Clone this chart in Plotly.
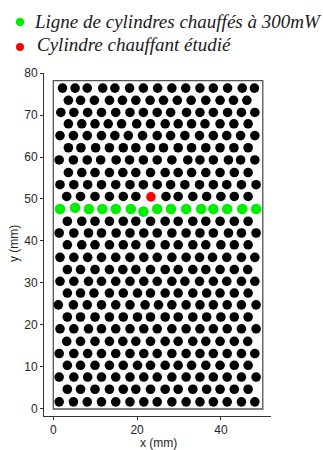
import plotly.graph_objects as go

# ---- data (mm) ----
row_y = [1.7, 4.7, 7.6, 10.4, 13.2, 16.1, 19.1, 21.9, 24.8, 27.6, 30.4, 33.2, 36.1,
         39.1, 41.9, 44.7, 50.6, 53.4, 56.3, 59.3, 62.2, 65.1, 67.9, 70.6, 73.5, 76.4]
row_x = [
    [1.4, 4.8, 8.1, 11.5, 14.9, 18.3, 21.6, 24.8, 28.3, 31.7, 35.0, 38.2, 41.5, 44.9, 48.1],
    [3.35, 6.5, 9.95, 13.4, 16.7, 19.7, 23.2, 26.7, 29.8, 33.3, 36.6, 39.8, 43.2, 46.5],
    [1.4, 4.9, 8.2, 11.5, 14.9, 18.3, 21.6, 24.8, 28.3, 31.7, 35.0, 38.2, 41.5, 44.9, 48.4],
    [3.35, 6.5, 9.95, 13.4, 16.7, 20.1, 23.2, 26.7, 29.8, 33.0, 36.4, 39.8, 43.2, 46.5],
    [1.4, 4.9, 8.2, 11.5, 14.9, 18.3, 21.6, 24.8, 28.3, 31.7, 35.0, 38.2, 41.5, 44.9, 48.1],
    [3.2, 6.5, 9.95, 13.4, 16.6, 19.7, 23.2, 26.7, 29.8, 33.3, 36.4, 39.8, 43.2, 46.4],
    [1.6, 4.9, 8.4, 11.5, 14.9, 18.3, 21.6, 24.8, 28.3, 31.7, 35.0, 38.2, 41.5, 44.9, 48.4],
    [3.35, 6.5, 9.95, 13.4, 16.7, 20.1, 23.2, 26.7, 29.8, 33.3, 36.6, 40.0, 43.2, 46.5],
    [1.2, 4.8, 8.1, 11.5, 14.9, 18.3, 21.9, 25.1, 28.3, 31.7, 35.0, 38.2, 41.5, 44.9, 48.4],
    [3.35, 6.5, 9.7, 13.4, 16.7, 20.1, 23.2, 26.7, 29.8, 33.3, 36.6, 39.8, 43.2, 46.5],
    [1.6, 4.9, 8.4, 11.5, 14.9, 18.3, 21.6, 24.8, 28.3, 31.4, 34.9, 38.2, 41.4, 44.9, 48.1],
    [3.35, 6.5, 9.95, 13.4, 16.6, 19.7, 23.2, 26.7, 29.8, 33.3, 36.4, 39.8, 43.2, 46.4],
    [1.6, 4.9, 8.2, 11.5, 14.9, 18.3, 21.6, 24.8, 28.3, 31.7, 34.9, 38.0, 41.4, 44.9, 48.1],
    [3.35, 6.8, 9.95, 13.4, 16.7, 19.7, 23.2, 26.7, 29.8, 33.3, 36.4, 40.0, 43.2, 46.5],
    [1.4, 4.9, 8.4, 11.5, 15.0, 18.3, 21.6, 24.8, 28.3, 31.7, 35.0, 38.2, 41.8, 44.9, 48.4],
    [3.35, 6.8, 9.95, 13.4, 16.7, 19.7, 23.2, 26.7, 29.8, 33.3, 36.4, 39.8, 43.2, 46.5],
    [3.2, 6.5, 9.95, 13.4, 16.7, 19.7, 26.9, 29.8, 33.3, 36.6, 40.0, 43.2, 46.5],
    [1.6, 4.9, 8.2, 11.5, 14.9, 18.3, 21.5, 24.8, 28.0, 31.4, 34.9, 38.2, 41.4, 44.9, 48.4],
    [3.6, 6.8, 9.95, 13.4, 16.6, 19.7, 23.2, 26.7, 29.8, 33.0, 36.4, 39.8, 43.2, 46.5],
    [1.4, 4.8, 8.1, 11.3, 15.0, 18.2, 21.5, 24.8, 28.3, 32.1, 35.0, 38.2, 41.8, 44.7, 48.1],
    [3.6, 6.6, 10.1, 13.4, 16.7, 19.7, 23.2, 26.3, 29.8, 33.0, 36.4, 39.8, 43.1, 46.5],
    [1.6, 4.8, 8.1, 11.5, 14.7, 17.9, 21.3, 24.8, 28.0, 31.4, 34.9, 38.2, 41.4, 44.7, 48.1],
    [3.6, 6.8, 9.95, 13.1, 16.3, 19.9, 23.2, 26.7, 29.8, 33.0, 36.2, 39.8, 43.1, 46.5],
    [1.8, 4.9, 8.2, 11.5, 14.9, 18.3, 21.5, 24.8, 28.0, 31.8, 35.0, 38.2, 41.6, 44.9, 48.1],
    [3.6, 6.5, 9.8, 13.4, 16.5, 19.7, 23.1, 26.3, 29.6, 32.9, 36.4, 39.8, 43.0, 46.2],
    [2.2, 5.2, 8.1, 11.8, 14.7, 18.2, 21.5, 24.9, 28.3, 31.6, 35.0, 38.2, 41.6, 45.1, 48.0],
]
green_x = [1.6, 5.2, 8.5, 11.7, 14.9, 18.5, 21.5, 24.8, 28.1, 31.7, 35.3, 38.2, 41.5, 45.1, 48.4]
green_y = [47.6, 47.9, 47.6, 47.6, 47.6, 47.6, 47.0, 47.6, 47.6, 47.6, 47.6, 47.6, 47.6, 47.6, 47.6]
red_x = [23.3]
red_y = [50.5]
box_w = 50.0
box_h = 78.2
x_ticks = [0, 20, 40]
y_ticks = [0, 10, 20, 30, 40, 50, 60, 70, 80]
legend_labels = ["Ligne de cylindres chauffés à 300mW", "Cylindre chauffant étudié"]

black_x, black_y = [], []
for yy, xs in zip(row_y, row_x):
    black_x.extend(xs)
    black_y.extend([yy] * len(xs))

fig = go.Figure()
fig.add_trace(go.Scatter(x=black_x, y=black_y, mode="markers",
                         marker=dict(color="black", size=9.6, line=dict(width=0)),
                         showlegend=False, hoverinfo="skip"))
fig.add_trace(go.Scatter(x=green_x, y=green_y, mode="markers",
                         marker=dict(color="#00ee00", size=10.6, line=dict(width=0)),
                         showlegend=False))
fig.add_trace(go.Scatter(x=red_x, y=red_y, mode="markers",
                         marker=dict(color="#ff0000", size=9.6, line=dict(width=0)),
                         showlegend=False))

# box of the cylinder bank
fig.add_shape(type="rect", x0=0, y0=0, x1=box_w, y1=box_h, xref="x", yref="y",
              line=dict(color="#555555", width=1.3), layer="below")

L, R, T, B = 44, 52, 73, 34
W, H = 323, 450
pw, ph = W - L - R, H - T - B

def px(x):
    return (x - L) / pw

def py(y):
    return (H - B - y) / ph

SERIF = "Liberation Serif"
SANS = "Liberation Sans"

# legend (manual)
for (cx, cy, col, r) in [(20, 22, "#00ee00", 4.2), (20, 47, "#ff0000", 4.0)]:
    fig.add_shape(type="circle", xref="paper", yref="paper",
                  x0=px(cx - r), x1=px(cx + r), y0=py(cy + r), y1=py(cy - r),
                  fillcolor=col, line=dict(width=0))
for (tx, ty, txt) in [(32, 21, legend_labels[0]), (35, 45, legend_labels[1])]:
    fig.add_annotation(x=px(tx), y=py(ty), xref="paper", yref="paper",
                       text="<i>" + txt + "</i>",
                       showarrow=False, xanchor="left", yanchor="middle",
                       font=dict(family=SERIF, size=19, color="#1a1a1a"))

# axis titles
fig.add_annotation(x=px(158), y=py(443), xref="paper", yref="paper", text="x (mm)",
                   showarrow=False, xanchor="center", yanchor="middle",
                   font=dict(family=SANS, size=12, color="#262626"))
fig.add_annotation(x=px(14), y=py(244), xref="paper", yref="paper", text="y (mm)",
                   showarrow=False, xanchor="center", yanchor="middle", textangle=-90,
                   font=dict(family=SANS, size=12, color="#262626"))

axis_common = dict(showgrid=False, zeroline=False, showline=True, linecolor="#333333",
                   linewidth=1, ticks="outside", ticklen=3, tickcolor="#333333",
                   tickfont=dict(family=SANS, size=12, color="#262626"))
fig.update_xaxes(range=[-2.22, 51.96], tickvals=x_ticks, **axis_common)
fig.update_yaxes(range=[-1.67, 80.0], tickvals=y_ticks, **axis_common)
fig.update_layout(width=W, height=H, margin=dict(l=L, r=R, t=T, b=B, autoexpand=False),
                  plot_bgcolor="white", paper_bgcolor="white")
fig.write_html("out.html", config={"displayModeBar": False},
               post_script="document.body.style.margin='0';document.body.style.padding='0';")
